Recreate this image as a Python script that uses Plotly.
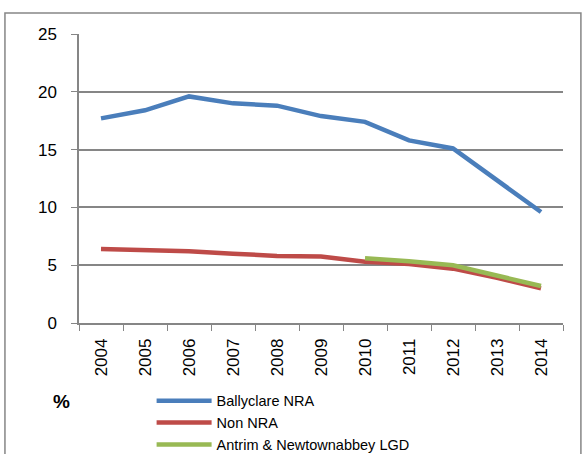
import plotly.graph_objects as go

years = ["2004", "2005", "2006", "2007", "2008", "2009", "2010", "2011", "2012", "2013", "2014"]
ballyclare = [17.7, 18.4, 19.6, 19.0, 18.8, 17.9, 17.4, 15.8, 15.1, 12.3, 9.6]
non_nra = [6.4, 6.3, 6.2, 6.0, 5.8, 5.75, 5.3, 5.1, 4.7, 3.9, 3.0]
lgd_years = ["2010", "2011", "2012", "2013", "2014"]
lgd = [5.6, 5.35, 5.0, 4.1, 3.2]

font = "Liberation Sans"
grid = "#868686"

fig = go.Figure()
fig.add_trace(go.Scatter(x=years, y=ballyclare, mode="lines", name="Ballyclare NRA",
                         line=dict(color="#4A7EBB", width=4.5)))
fig.add_trace(go.Scatter(x=years, y=non_nra, mode="lines", name="Non NRA",
                         line=dict(color="#BE4B48", width=4.5)))
fig.add_trace(go.Scatter(x=lgd_years, y=lgd, mode="lines", name="Antrim & Newtownabbey LGD",
                         line=dict(color="#98B954", width=4.5)))

fig.update_layout(
    width=582, height=454,
    margin=dict(l=79, r=19, t=34, b=131, autoexpand=False),
    paper_bgcolor="white", plot_bgcolor="white",
    font=dict(family=font, size=15, color="black"),
    showlegend=True,
    legend=dict(x=0.15, y=-0.214, xanchor="left", yanchor="top",
                font=dict(family=font, size=14.5), itemwidth=55,
                tracegroupgap=0, bgcolor="rgba(0,0,0,0)"),
    xaxis=dict(type="category", categoryorder="array", categoryarray=years,
               range=[-0.5, 10.5], automargin=False,
               tickangle=-90, tickson="boundaries", ticks="outside", ticklen=6,
               ticklabelstandoff=7,
               tickcolor=grid, showline=True, linecolor=grid, linewidth=1.5,
               showgrid=False, tickfont=dict(size=17)),
    yaxis=dict(range=[0, 25], dtick=5, ticks="outside", ticklen=6, tickcolor=grid,
               automargin=False, ticklabelstandoff=11,
               showline=True, linecolor=grid, linewidth=1.5,
               showgrid=True, gridcolor=grid, gridwidth=1.5, zeroline=False,
               tickfont=dict(size=17)),
    shapes=[dict(type="rect", xref="paper", yref="paper",
                 x0=-0.153, x1=1.037, y0=-0.6, y1=1.0727,
                 line=dict(color=grid, width=1.5), layer="below")],
    annotations=[dict(text="<b>%</b>", xref="paper", yref="paper",
                      x=-0.036, y=-0.27, xanchor="center", yanchor="middle",
                      showarrow=False, font=dict(family=font, size=19))],
)

fig.write_html("out.html", config={"displayModeBar": False},
               post_script="document.body.style.margin='0';document.body.style.overflow='hidden';")
